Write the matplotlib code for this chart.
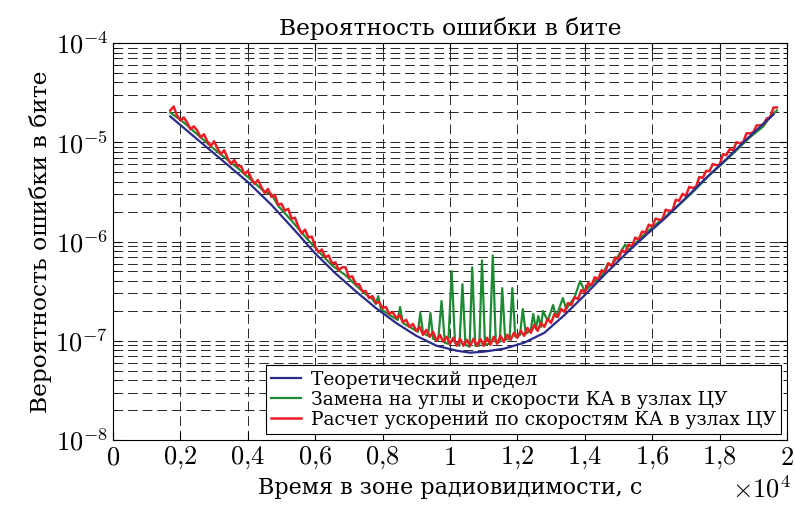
import numpy as np
import matplotlib
matplotlib.use("Agg")
import matplotlib.pyplot as plt
from matplotlib.ticker import FixedLocator, FuncFormatter, LogLocator, NullFormatter

# x in units of 1e4 s, y as log10(BER)
blue_x = [0.17, 0.25, 0.32, 0.40, 0.47, 0.54, 0.60, 0.66, 0.72, 0.78, 0.84, 0.90,
          0.96, 1.02, 1.06, 1.10, 1.16, 1.22, 1.28, 1.34, 1.40, 1.46, 1.52, 1.58,
          1.64, 1.70, 1.76, 1.82, 1.88, 1.96]
blue_lg = [-4.74, -4.97, -5.17, -5.40, -5.63, -5.89, -6.12, -6.32, -6.50, -6.67,
           -6.82, -6.95, -7.05, -7.10, -7.12, -7.11, -7.08, -7.02, -6.92, -6.74,
           -6.54, -6.33, -6.13, -5.94, -5.76, -5.56, -5.36, -5.17, -4.97, -4.72]

red_x = np.round(np.arange(0.17, 1.975, 0.01), 2)
red_lg = [-4.68, -4.64, -4.73, -4.78, -4.75, -4.80, -4.87, -4.84, -4.88, -4.95,
          -4.92, -4.99, -5.04, -4.99, -5.06, -5.12, -5.08, -5.16, -5.22, -5.18,
          -5.24, -5.24, -5.32, -5.29, -5.36, -5.42, -5.38, -5.45, -5.51, -5.47,
          -5.55, -5.53, -5.63, -5.62, -5.69, -5.67, -5.77, -5.76, -5.85, -5.92,
          -5.88, -5.96, -5.95, -6.05, -6.11, -6.08, -6.16, -6.14, -6.22, -6.21,
          -6.29, -6.26, -6.26, -6.36, -6.35, -6.43, -6.43, -6.50, -6.50, -6.57,
          -6.55, -6.62, -6.61, -6.67, -6.66, -6.73, -6.71, -6.77, -6.74, -6.81,
          -6.79, -6.86, -6.83, -6.90, -6.86, -6.94, -6.89, -6.96, -6.91, -7.00,
          -6.94, -7.01, -6.96, -7.03, -6.97, -7.05, -6.98, -7.05, -6.99, -7.05,
          -6.98, -7.05, -6.98, -7.05, -6.97, -7.04, -6.96, -7.03, -6.95, -7.01,
          -6.94, -6.99, -6.92, -6.97, -6.90, -6.95, -6.87, -6.92, -6.84, -6.90,
          -6.82, -6.86, -6.78, -6.82, -6.73, -6.76, -6.68, -6.71, -6.62, -6.64,
          -6.56, -6.58, -6.49, -6.51, -6.42, -6.44, -6.36, -6.38, -6.29, -6.31,
          -6.22, -6.25, -6.16, -6.18, -6.09, -6.11, -6.03, -6.05, -5.96, -5.98,
          -5.90, -5.91, -5.83, -5.85, -5.77, -5.78, -5.78, -5.68, -5.69, -5.69,
          -5.58, -5.59, -5.52, -5.54, -5.45, -5.46, -5.45, -5.35, -5.36, -5.29,
          -5.29, -5.22, -5.23, -5.23, -5.12, -5.13, -5.07, -5.08, -5.00, -5.01,
          -5.00, -4.91, -4.91, -4.90, -4.83, -4.83, -4.82, -4.76, -4.75, -4.65,
          -4.65]

green_x = [0.17, 0.21, 0.25, 0.29, 0.33, 0.37, 0.41, 0.45, 0.47, 0.49, 0.53,
           0.57, 0.61, 0.65, 0.69, 0.73, 0.75, 0.77, 0.78, 0.787, 0.795, 0.83,
           0.845, 0.852, 0.86, 0.90, 0.905, 0.912, 0.92, 0.935, 0.942, 0.95,
           0.965, 0.975, 0.985, 0.995, 1.005, 1.015, 1.028, 1.037, 1.046, 1.058,
           1.066, 1.075, 1.087, 1.095, 1.104, 1.118, 1.127, 1.136, 1.148, 1.155,
           1.164, 1.177, 1.185, 1.194, 1.208, 1.216, 1.225, 1.24, 1.247, 1.255,
           1.262, 1.27, 1.276, 1.29, 1.306, 1.315, 1.335, 1.345, 1.37, 1.386,
           1.40, 1.43, 1.45, 1.469, 1.48, 1.50, 1.52, 1.53, 1.57, 1.61, 1.65,
           1.69, 1.73, 1.77, 1.81, 1.85, 1.89, 1.93, 1.95, 1.97]
green_lg = [-4.70, -4.80, -4.92, -5.04, -5.15, -5.26, -5.38, -5.50, -5.52, -5.64,
            -5.79, -5.95, -6.10, -6.24, -6.34, -6.47, -6.53, -6.58, -6.63, -6.55,
            -6.68, -6.76, -6.79, -6.66, -6.82, -6.90, -6.91, -6.72, -6.92, -6.95,
            -6.72, -6.98, -7.00, -6.60, -7.02, -7.03, -6.30, -7.02, -7.05, -6.43,
            -7.04, -7.06, -6.26, -7.05, -7.05, -6.19, -7.04, -7.03, -6.14, -7.01,
            -7.01, -6.47, -6.99, -6.98, -6.47, -6.96, -6.94, -6.68, -6.93, -6.89,
            -6.73, -6.88, -6.75, -6.86, -6.70, -6.80, -6.64, -6.76, -6.57, -6.68,
            -6.56, -6.40, -6.50, -6.40, -6.35, -6.22, -6.24, -6.14, -6.03, -6.09,
            -5.95, -5.83, -5.72, -5.60, -5.47, -5.33, -5.21, -5.08, -4.95, -4.84,
            -4.74, -4.68]

labels = ["Теоретический предел",
          "Замена на углы и скорости КА в узлах ЦУ",
          "Расчет ускорений по скоростям КА в узлах ЦУ"]
x_ticks = [0, 0.2, 0.4, 0.6, 0.8, 1.0, 1.2, 1.4, 1.6, 1.8, 2.0]

plt.rcParams.update({
    "font.family": ["DejaVu Serif"],
    "mathtext.fontset": "cm",
    "xtick.direction": "in",
    "ytick.direction": "in",
    "xtick.top": True,
    "ytick.right": True,
})

fig = plt.figure(figsize=(7.95, 5.07), dpi=100)
ax = fig.add_axes([0.1421, 0.1321, 0.8478, 0.7831])

def to_s(v):
    return np.array(v) * 1e4

ax.plot(to_s(blue_x), 10 ** np.array(blue_lg), color="#2a2c8c", lw=1.6,
        label=labels[0], zorder=4)
ax.plot(to_s(green_x), 10 ** np.array(green_lg), color="#1f8a34", lw=1.6,
        label=labels[1], zorder=2)
ax.plot(to_s(red_x), 10 ** np.array(red_lg), color="#ec1c24", lw=1.8,
        label=labels[2], zorder=3)

ax.set_yscale("log")
ax.set_xlim(0, 2e4)
ax.set_ylim(1e-8, 1e-4)

ax.xaxis.set_major_locator(FixedLocator(to_s(x_ticks)))
ax.xaxis.set_major_formatter(FuncFormatter(
    lambda v, p: "$%s$" % (("%g" % (v / 1e4)).replace(".", "{,}"))))
ax.yaxis.set_major_locator(LogLocator(base=10, numticks=10))
ax.yaxis.set_minor_locator(LogLocator(base=10, subs=np.arange(2, 10), numticks=50))
ax.yaxis.set_minor_formatter(NullFormatter())
ax.yaxis.set_major_formatter(FuncFormatter(
    lambda v, p: "$10^{%d}$" % round(np.log10(v))))
ax.tick_params(axis="both", which="major", labelsize=19, length=6, width=0.8)
ax.tick_params(axis="y", which="minor", length=3, width=0.6)

dash = (0, (10, 5))
ax.grid(True, which="major", axis="both", color="0.15", lw=0.7, ls=dash)
ax.grid(True, which="minor", axis="y", color="0.15", lw=0.7, ls=dash)
for s in ax.spines.values():
    s.set_linewidth(0.8)

ax.set_title("Вероятность ошибки в бите", fontsize=16.8, pad=6)
ax.set_xlabel("Время в зоне радиовидимости, с", fontsize=16, labelpad=4)
ax.set_ylabel("Вероятность ошибки в бите", fontsize=16.8, labelpad=2)
ax.text(1.006, -0.09, r"$\times10^{4}$", transform=ax.transAxes, fontsize=19,
        ha="right", va="top")

leg = ax.legend(loc="lower right", fontsize=13.5, frameon=True, fancybox=False,
                edgecolor="k", framealpha=1, borderaxespad=0.3,
                handlelength=1.6, handletextpad=0.5, labelspacing=0.1,
                borderpad=0.3)
leg.get_frame().set_linewidth(0.8)

fig.savefig("out.png", dpi=100)
